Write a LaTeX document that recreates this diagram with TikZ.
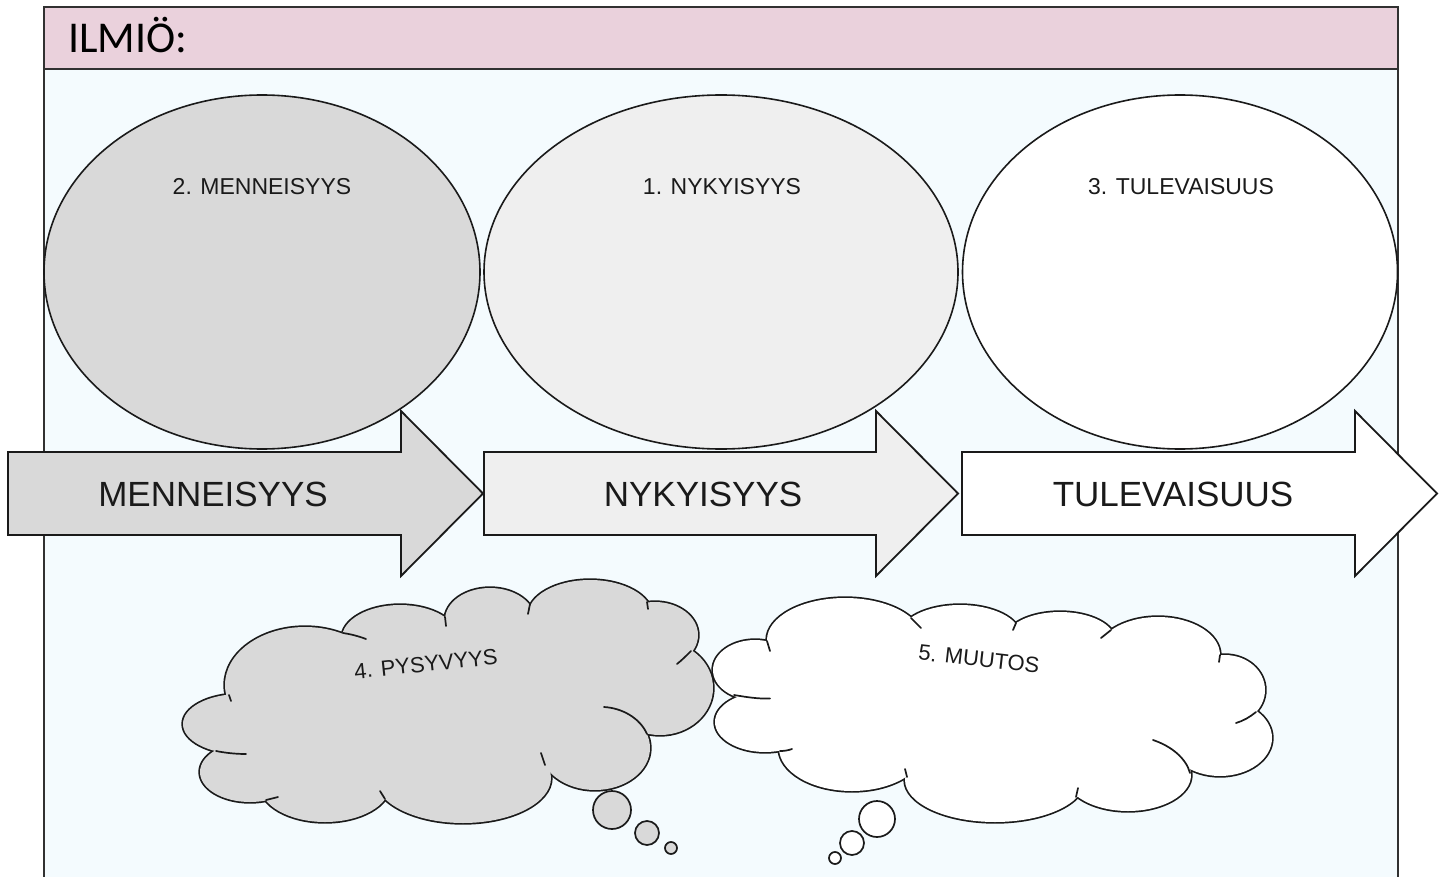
\documentclass[tikz,border=0pt]{standalone}
\usepackage{fontspec}
\setmainfont{Liberation Sans}
\newfontfamily\hdrfont{Carlito}
\usetikzlibrary{shapes.geometric}
\definecolor{hdr}{HTML}{EAD1DC}
\definecolor{bodybg}{HTML}{F4FBFE}
\definecolor{gA}{HTML}{D9D9D9}
\definecolor{gB}{HTML}{EFEFEF}
\definecolor{ink}{HTML}{1A1A1A}
\begin{document}
\begin{tikzpicture}[x=1pt,y=-1pt,
  frame/.style={draw=ink!90, line width=2pt},
  oval/.style={ellipse, draw=ink, line width=1.6pt, inner sep=0pt, outer sep=0pt},
  lab/.style={font=\fontsize{23}{27}\selectfont, text=ink, inner sep=0pt},
  cloudlab/.style={font=\fontsize{22}{26}\selectfont, text=ink, inner sep=0pt},
  big/.style={font=\fontsize{35}{40}\selectfont, text=ink, inner sep=0pt},
  arrowbox/.style={draw=ink, line width=1.8pt, line join=miter},
  cloudline/.style={draw=ink, line width=1.7pt},
  inner/.style={draw=ink, line width=1.7pt, line cap=round}]
\useasboundingbox (0,0) rectangle (1450,877);
\clip (0,0) rectangle (1450,877);

% frame
\fill[bodybg] (44,69) rectangle (1398,900);
\draw[frame, fill=hdr] (44,7) rectangle (1398,69);
\draw[frame] (44,69) -- (44,900);
\draw[frame] (1398,69) -- (1398,900);
\node[anchor=base west, font=\hdrfont\fontsize{44}{44}\selectfont, inner sep=0pt] (title) at (68,53) {ILMIÖ:};

% ellipses
\node[oval, fill=gA, minimum width=436pt, minimum height=354pt] (past) at (262,272) {};
\node[oval, fill=gB, minimum width=474pt, minimum height=354pt] (present) at (721,272) {};
\node[oval, fill=white, minimum width=435pt, minimum height=354pt] (future) at (1180,272) {};
\node[lab] (pastlab) at (262,187) {2. MENNEISYYS};
\node[lab] (presentlab) at (722,187) {1. NYKYISYYS};
\node[lab] (futurelab) at (1181,187) {3. TULEVAISUUS};

% arrows
\draw[arrowbox, fill=gA] (8,452) -- (401,452) -- (401,411) -- (483,493.5) -- (401,576) -- (401,535) -- (8,535) -- cycle;
\draw[arrowbox, fill=gB] (484,452) -- (876,452) -- (876,411) -- (958,493.5) -- (876,576) -- (876,535) -- (484,535) -- cycle;
\draw[arrowbox, fill=white] (962,452) -- (1355,452) -- (1355,411) -- (1437,493.5) -- (1355,576) -- (1355,535) -- (962,535) -- cycle;
\node[big] (pastarrow) at (213,494) {MENNEISYYS};
\node[big] (presentarrow) at (703,494) {NYKYISYYS};
\node[big] (futurearrow) at (1173,494) {TULEVAISUUS};

% gray cloud
\foreach \cx/\cy/\rx/\ry in {305/685/80/58, 400/638/58/33, 490/620/45/32, 590/615/62/35, 655/635/43/33, 660/688/53/47, 595/748/55/42, 463/778/88/45, 325/785/65/37, 250/772/50/30, 240/724/57/30}
  \draw[ink, line width=3.4pt] (\cx,\cy) ellipse [x radius=\rx, y radius=\ry];
\foreach \cx/\cy/\rx/\ry in {305/685/80/58, 400/638/58/33, 490/620/45/32, 590/615/62/35, 655/635/43/33, 660/688/53/47, 595/748/55/42, 463/778/88/45, 325/785/65/37, 250/772/50/30, 240/724/57/30, 450/705/200/75, 560/668/100/45, 290/748/45/18}
  \fill[gA] (\cx,\cy) ellipse [x radius=\rx, y radius=\ry];
\draw[inner] (343,633) .. controls (350,634) and (358,636) .. (366,639);
\draw[inner] (445,617) -- (446,626);
\draw[inner] (530,604) -- (528,614);
\draw[inner] (647,602) -- (648,609);
\draw[inner] (691,651) .. controls (686,656) and (682,660) .. (677,664);
\draw[inner] (604,707) .. controls (622,708) and (640,718) .. (647,734);
\draw[inner] (545,765) -- (541,753);
\draw[inner] (385,799) -- (380,791);
\draw[inner] (266,800) -- (278,797);
\draw[inner] (216,751) .. controls (226,753) and (236,754) .. (246,754);
\draw[inner] (229,695) -- (231,701);
\draw[cloudline, fill=gA] (612,810) circle[radius=19];
\draw[cloudline, fill=gA] (647,833) circle[radius=12];
\draw[cloudline, fill=gA] (671,848) circle[radius=6];
\node[cloudlab, rotate=6] (stability) at (426,664) {4. PYSYVYYS};

% white cloud
\foreach \cx/\cy/\rx/\ry in {845/640/78/42, 960/635/60/30, 1060/640/55/28, 1158/655/62/38, 1225/690/40/35, 1220/738/52/38, 1128/775/63/36, 995/780/90/42, 852/748/73/43, 765/722/50/30, 755/670/42/30}
  \draw[ink, line width=3.4pt] (\cx,\cy) ellipse [x radius=\rx, y radius=\ry];
\foreach \cx/\cy/\rx/\ry in {845/640/78/42, 960/635/60/30, 1060/640/55/28, 1158/655/62/38, 1225/690/40/35, 1220/738/52/38, 1128/775/63/36, 995/780/90/42, 852/748/73/43, 765/722/50/30, 755/670/42/30, 990/705/210/70, 810/690/55/35, 1165/740/30/18}
  \fill[white] (\cx,\cy) ellipse [x radius=\rx, y radius=\ry];
\draw[inner] (911,618) -- (921,628);
\draw[inner] (1016,623) -- (1013,630);
\draw[inner] (1111,630) -- (1101,638);
\draw[inner] (1220,655) -- (1219,662);
\draw[inner] (1256,712) .. controls (1250,717) and (1243,721) .. (1236,723);
\draw[inner] (1153,740) .. controls (1171,746) and (1186,758) .. (1190,773);
\draw[inner] (1076,797) -- (1078,788);
\draw[inner] (907,777) -- (905,769);
\draw[inner] (780,751) .. controls (784,751) and (788,750.5) .. (792,749);
\draw[inner] (734,695) .. controls (746,697) and (758,699) .. (770,698.5);
\draw[inner] (767,641) -- (770,651);
\draw[cloudline, fill=white] (877,819) circle[radius=18];
\draw[cloudline, fill=white] (852,843) circle[radius=12];
\draw[cloudline, fill=white] (835,858) circle[radius=6];
\node[cloudlab, rotate=-6.5] (change) at (979,659) {5. MUUTOS};
\end{tikzpicture}
\end{document}
